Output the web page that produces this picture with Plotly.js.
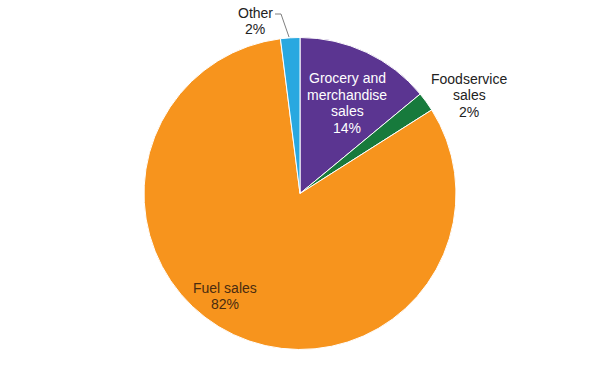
<!DOCTYPE html>
<html>
<head>
<meta charset="utf-8">
<script src="https://cdn.plot.ly/plotly-3.0.1.min.js"></script>
<style>html,body{margin:0;padding:0;background:#fff;}#chart{width:600px;height:378px;}</style>
</head>
<body>
<div id="chart"></div>
<script>
// Data
var categories = ['Grocery and merchandise sales', 'Foodservice sales', 'Fuel sales', 'Other'];
var shares = [14, 2, 82, 2];
var labelLines = [['Grocery and', 'merchandise', 'sales'], ['Foodservice', 'sales'], ['Fuel sales'], ['Other']];
var colors = ['#5b3591', '#177a3c', '#f7941d', '#29a8e0'];
var labelColors = ['#ffffff', '#222222', '#4a2c10', '#222222'];
// label block centres (pixels)
var labelX = [347, 469, 225, 255];
var labelY = [103, 95, 296, 21];

var W = 600, H = 378;
var annotations = [];
for (var i = 0; i < categories.length; i++) {
  var lines = labelLines[i].concat([shares[i] + '%']);
  var sp = 16.5;
  var y0 = labelY[i] - sp * (lines.length - 1) / 2;
  for (var j = 0; j < lines.length; j++) {
    annotations.push({
      text: lines[j], showarrow: false, xref: 'paper', yref: 'paper',
      x: labelX[i] / W, y: 1 - (y0 + j * sp) / H, xanchor: 'center', yanchor: 'middle',
      font: {family: 'Liberation Sans, Arial, sans-serif', size: 14, color: labelColors[i]}
    });
  }
}

var data = [{
  type: 'pie', labels: categories, values: shares, sort: false, direction: 'clockwise', rotation: 0,
  marker: {colors: colors, line: {color: '#ffffff', width: 1}},
  textinfo: 'none', hoverinfo: 'label+percent', showlegend: false,
  domain: {x: [144 / W, 456 / W], y: [1 - 349.5 / H, 1 - 37.5 / H]}
}];

var layout = {
  width: W, height: H, margin: {l: 0, r: 0, t: 0, b: 0},
  paper_bgcolor: '#ffffff', plot_bgcolor: '#ffffff', showlegend: false,
  annotations: annotations,
  shapes: [{
    type: 'path', xref: 'paper', yref: 'paper',
    path: 'M ' + (275 / W) + ' ' + (1 - 14 / H) + ' L ' + (281 / W) + ' ' + (1 - 14 / H) + ' L ' + (289 / W) + ' ' + (1 - 37 / H),
    line: {color: '#7f7f7f', width: 1}
  }]
};

Plotly.newPlot('chart', data, layout, {displayModeBar: false, staticPlot: true});
</script>
</body>
</html>
